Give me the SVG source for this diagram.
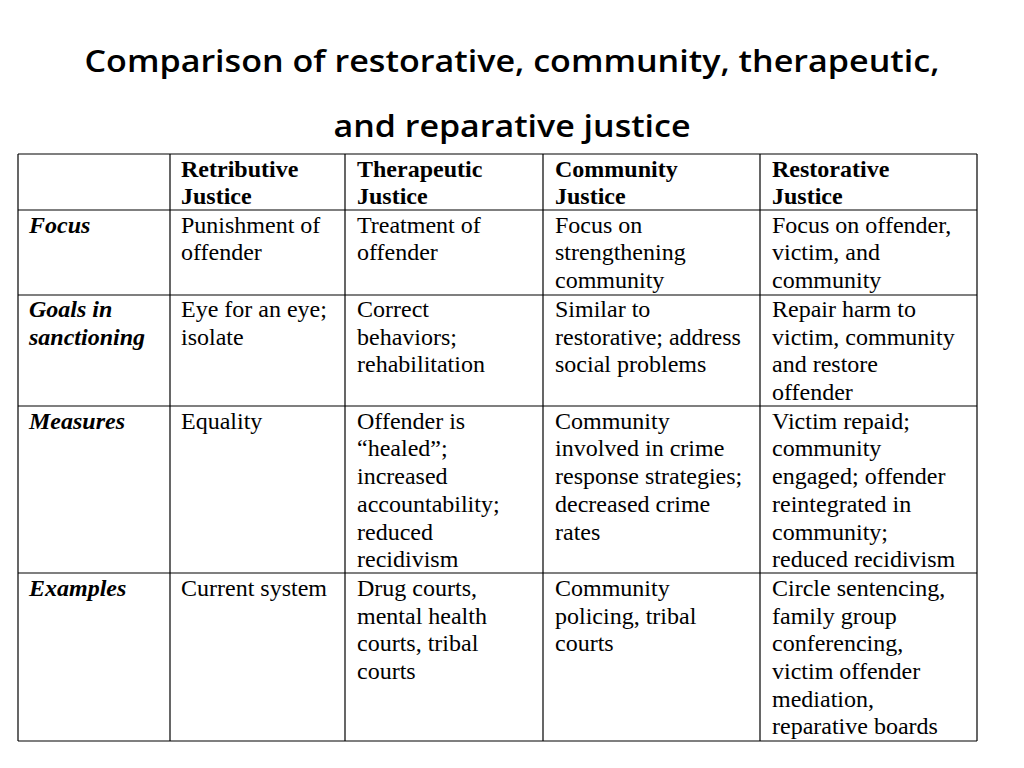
<svg xmlns="http://www.w3.org/2000/svg" width="1024" height="768" viewBox="0 0 1024 768">
<style>
.t{font-family:"Open Sans","Liberation Sans",sans-serif;font-weight:600;font-size:31px;fill:#000;text-anchor:middle}
.c{font-family:"Liberation Serif",serif;font-size:24px;fill:#000}
.b{font-weight:bold}.i{font-style:italic;font-weight:bold}
line{stroke:#000;stroke-width:1.2}
</style>
<rect width="1024" height="768" fill="#fff"/>
<text class="t" x="512" y="72" textLength="855" lengthAdjust="spacingAndGlyphs">Comparison of restorative, community, therapeutic,</text>
<text class="t" x="512" y="137" textLength="357" lengthAdjust="spacingAndGlyphs">and reparative justice</text>
<g id="grid">
<line x1="18" y1="154" x2="977" y2="154"/><line x1="18" y1="210" x2="977" y2="210"/>
<line x1="18" y1="295" x2="977" y2="295"/><line x1="18" y1="406" x2="977" y2="406"/>
<line x1="18" y1="573" x2="977" y2="573"/><line x1="18" y1="741" x2="977" y2="741"/>
<line x1="18" y1="154" x2="18" y2="741"/><line x1="170" y1="154" x2="170" y2="741"/>
<line x1="345" y1="154" x2="345" y2="741"/><line x1="543" y1="154" x2="543" y2="741"/>
<line x1="760" y1="154" x2="760" y2="741"/><line x1="977" y1="154" x2="977" y2="741"/>
</g>
<g id="header" class="c b">
<text x="181" y="177">Retributive</text><text x="181" y="204">Justice</text>
<text x="357" y="177">Therapeutic</text><text x="357" y="204">Justice</text>
<text x="555" y="177">Community</text><text x="555" y="204">Justice</text>
<text x="772" y="177">Restorative</text><text x="772" y="204">Justice</text>
</g>
<g id="focus" class="c">
<text class="i" x="29" y="233">Focus</text>
<text x="181" y="233">Punishment of</text><text x="181" y="260">offender</text>
<text x="357" y="233">Treatment of</text><text x="357" y="260">offender</text>
<text x="555" y="233">Focus on</text><text x="555" y="260">strengthening</text><text x="555" y="288">community</text>
<text x="772" y="233">Focus on offender,</text><text x="772" y="260">victim, and</text><text x="772" y="288">community</text>
</g>
<g id="goals" class="c">
<text class="i" x="29" y="317">Goals in</text><text class="i" x="29" y="345">sanctioning</text>
<text x="181" y="317">Eye for an eye;</text><text x="181" y="345">isolate</text>
<text x="357" y="317">Correct</text><text x="357" y="345">behaviors;</text><text x="357" y="372">rehabilitation</text>
<text x="555" y="317">Similar to</text><text x="555" y="345">restorative; address</text><text x="555" y="372">social problems</text>
<text x="772" y="317">Repair harm to</text><text x="772" y="345">victim, community</text><text x="772" y="372">and restore</text><text x="772" y="400">offender</text>
</g>
<g id="measures" class="c">
<text class="i" x="29" y="429">Measures</text>
<text x="181" y="429">Equality</text>
<text x="357" y="429">Offender is</text><text x="357" y="456">“healed”;</text><text x="357" y="484">increased</text><text x="357" y="512">accountability;</text><text x="357" y="540">reduced</text><text x="357" y="567">recidivism</text>
<text x="555" y="429">Community</text><text x="555" y="456">involved in crime</text><text x="555" y="484">response strategies;</text><text x="555" y="512">decreased crime</text><text x="555" y="540">rates</text>
<text x="772" y="429">Victim repaid;</text><text x="772" y="456">community</text><text x="772" y="484">engaged; offender</text><text x="772" y="512">reintegrated in</text><text x="772" y="540">community;</text><text x="772" y="567">reduced recidivism</text>
</g>
<g id="examples" class="c">
<text class="i" x="29" y="596">Examples</text>
<text x="181" y="596">Current system</text>
<text x="357" y="596">Drug courts,</text><text x="357" y="624">mental health</text><text x="357" y="651">courts, tribal</text><text x="357" y="679">courts</text>
<text x="555" y="596">Community</text><text x="555" y="624">policing, tribal</text><text x="555" y="651">courts</text>
<text x="772" y="596">Circle sentencing,</text><text x="772" y="624">family group</text><text x="772" y="651">conferencing,</text><text x="772" y="679">victim offender</text><text x="772" y="707">mediation,</text><text x="772" y="734">reparative boards</text>
</g>
</svg>
